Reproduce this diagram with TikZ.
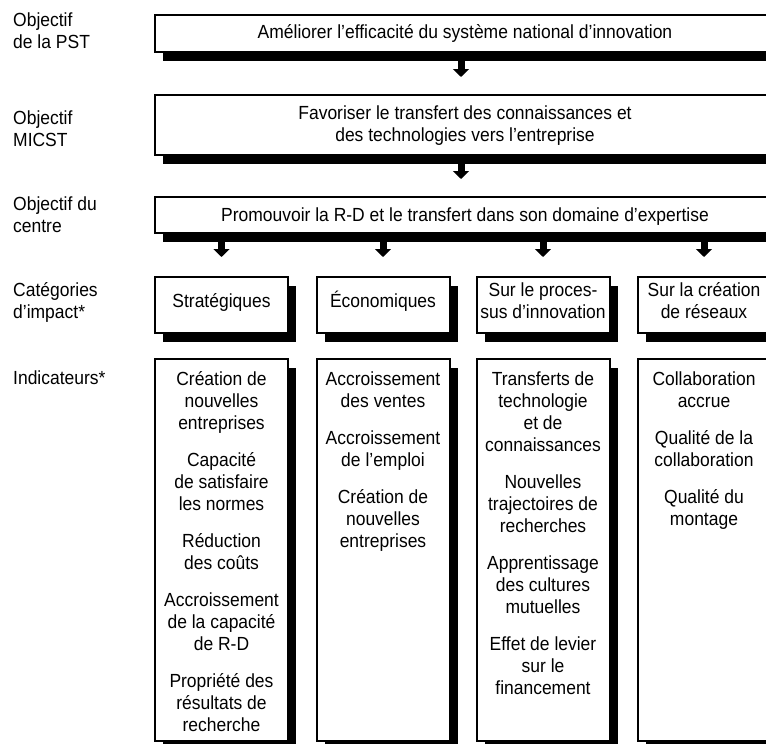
\documentclass[tikz,border=0pt]{standalone}
\usepackage{fontspec}
\setmainfont{Liberation Sans}[FakeStretch=0.92]
\usetikzlibrary{shadows,arrows.meta}
\newcommand\boxfont{\fontsize{19}{22}\selectfont}
\tikzset{
  box/.style={draw, line width=2pt, fill=white, inner sep=0pt,
    drop shadow={shadow xshift=8pt, shadow yshift=-8.5pt, fill=black, opacity=1}},
  txt/.style={inner sep=0pt, font=\boxfont, align=center, anchor=base},
  lbl/.style={inner sep=0pt, font=\boxfont, align=left, anchor=base west},
  blockarrow/.style={line width=7pt, -{Triangle[width=16pt,length=8pt]}},
}
\begin{document}
\begin{tikzpicture}[x=1pt,y=-1pt]
\useasboundingbox (0,0) rectangle (766,744);
% left labels (anchored at the baseline of the last line)
\node[lbl] (l1) at (13,48) {Objectif\\de la PST};
\node[lbl] (l2) at (13,146) {Objectif\\MICST};
\node[lbl] (l3) at (13,232) {Objectif du\\centre};
\node[lbl] (l4) at (13,318) {Catégories\\d’impact*};
\node[lbl] (l5) at (13,384) {Indicateurs*};
% objective boxes
\node[box, minimum width=620pt, minimum height=37pt] (b1) at (465,33.5) {};
\node[txt] (t1) at (465,38) {Améliorer l’efficacité du système national d’innovation};
\node[box, minimum width=620pt, minimum height=60pt] (b2) at (465,125) {};
\node[txt] (t2) at (465,141) {Favoriser le transfert des connaissances et\\des technologies vers l’entreprise};
\node[box, minimum width=620pt, minimum height=36pt] (b3) at (465,215) {};
\node[txt] (t3) at (465,221) {Promouvoir la R-D et le transfert dans son domaine d’expertise};
% category and indicator boxes
\foreach \n/\x in {1/221.5,2/383,3/543,4/704}{
  \node[box, minimum width=133pt, minimum height=56pt] (c\n) at (\x,305) {};
  \node[box, minimum width=133pt, minimum height=382pt] (i\n) at (\x,550) {};
}
\node[txt] (ct1) at (221.5,307) {Stratégiques};
\node[txt] (ct2) at (383,307) {Économiques};
\node[txt] (ct3) at (543,318) {Sur le proces-\\sus d’innovation};
\node[txt] (ct4) at (704,318) {Sur la création\\de réseaux};
% indicators
\node[txt] (it1) at (221.5,731) {Création de\\nouvelles\\entreprises\\[15pt]Capacité\\de satisfaire\\les normes\\[15pt]Réduction\\des coûts\\[15pt]Accroissement\\de la capacité\\de R-D\\[15pt]Propriété des\\résultats de\\recherche};
\node[txt] (it2) at (383,547) {Accroissement\\des ventes\\[15pt]Accroissement\\de l’emploi\\[15pt]Création de\\nouvelles\\entreprises};
\node[txt] (it3) at (543,694) {Transferts de\\technologie\\et de\\connaissances\\[15pt]Nouvelles\\trajectoires de\\recherches\\[15pt]Apprentissage\\des cultures\\mutuelles\\[15pt]Effet de levier\\sur le\\financement};
\node[txt] (it4) at (704,525) {Collaboration\\accrue\\[15pt]Qualité de la\\collaboration\\[15pt]Qualité du\\montage};
% arrows
\draw[blockarrow, shorten >=17pt] ([xshift=-4pt]b1.south) -- ([xshift=-4pt]b2.north);
\draw[blockarrow, shorten >=17pt] ([xshift=-4pt]b2.south) -- ([xshift=-4pt]b3.north);
\foreach \n in {1,2,3,4}{
  \draw[blockarrow, shorten >=19pt] (b3.south -| c\n.north) -- (c\n.north);
}
\end{tikzpicture}
\end{document}
